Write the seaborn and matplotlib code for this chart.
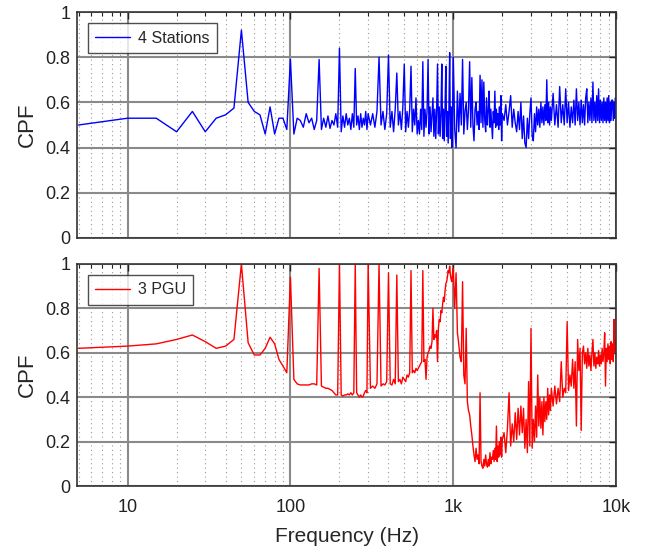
import numpy as np
import pandas as pd
import matplotlib
matplotlib.use("Agg")
import matplotlib.pyplot as plt
import seaborn as sns
from matplotlib.ticker import LogLocator, NullFormatter, FixedLocator

# ---- data (frequency in Hz, CPF) ----
# 5 Hz grid up to 300 Hz, then coarser steps for the dense part
f_a = np.arange(5, 101, 5)      # 20 bins
f_b = np.arange(105, 301, 5)    # 40 bins
f_c = np.arange(310, 601, 10)   # 30 bins
f_d = np.arange(610, 1001, 10)  # 40 bins
f_e = np.arange(1020, 2001, 20)  # 50 bins
f_g = np.arange(2050, 4001, 50)  # 40 bins
f_h = np.arange(4100, 10001, 100)  # 60 bins

stations_a = [0.50, 0.53, 0.53, 0.47, 0.56, 0.47, 0.53, 0.545, 0.575, 0.92,
              0.60, 0.56, 0.545, 0.46, 0.58, 0.46, 0.53, 0.53, 0.48, 0.79]
stations_b = [0.46, 0.53, 0.52, 0.49, 0.55, 0.51, 0.53, 0.48, 0.52, 0.79,
              0.48, 0.53, 0.49, 0.54, 0.485, 0.52, 0.50, 0.55, 0.49, 0.84,
              0.47, 0.54, 0.49, 0.55, 0.50, 0.53, 0.48, 0.55, 0.49, 0.75,
              0.50, 0.54, 0.48, 0.55, 0.49, 0.53, 0.50, 0.56, 0.48, 0.55]
stations_c = [0.50, 0.55, 0.49, 0.56, 0.80, 0.50, 0.56, 0.48, 0.55, 0.81,
              0.49, 0.56, 0.47, 0.57, 0.73, 0.50, 0.56, 0.48, 0.58, 0.77,
              0.47, 0.56, 0.49, 0.57, 0.76, 0.47, 0.57, 0.50, 0.62, 0.46]
stations_d = [0.52, 0.46, 0.57, 0.48, 0.78, 0.45, 0.57, 0.49, 0.56, 0.79,
              0.46, 0.58, 0.47, 0.55, 0.62, 0.45, 0.57, 0.44, 0.56, 0.77,
              0.46, 0.58, 0.45, 0.55, 0.77, 0.44, 0.57, 0.43, 0.58, 0.76,
              0.45, 0.56, 0.42, 0.57, 0.82, 0.44, 0.58, 0.40, 0.55, 0.80]
stations_e = [0.48, 0.40, 0.65, 0.47, 0.64, 0.50, 0.79, 0.46, 0.56, 0.60,
              0.48, 0.57, 0.78, 0.49, 0.71, 0.50, 0.43, 0.57, 0.60, 0.50,
              0.56, 0.48, 0.72, 0.51, 0.70, 0.49, 0.69, 0.52, 0.47, 0.62,
              0.50, 0.56, 0.65, 0.49, 0.57, 0.50, 0.44, 0.56, 0.51, 0.65,
              0.49, 0.57, 0.50, 0.55, 0.48, 0.58, 0.50, 0.63, 0.43, 0.55]
stations_g = [0.52, 0.59, 0.50, 0.56, 0.63, 0.49, 0.57, 0.51, 0.47, 0.56,
              0.48, 0.60, 0.44, 0.54, 0.42, 0.40, 0.53, 0.44, 0.55, 0.62,
              0.45, 0.43, 0.55, 0.47, 0.58, 0.50, 0.57, 0.49, 0.60, 0.51,
              0.58, 0.50, 0.59, 0.52, 0.70, 0.51, 0.60, 0.50, 0.58, 0.52]
stations_h = [0.64, 0.50, 0.59, 0.49, 0.67, 0.51, 0.59, 0.50, 0.66, 0.51,
              0.60, 0.49, 0.58, 0.51, 0.61, 0.50, 0.66, 0.52, 0.60, 0.50,
              0.61, 0.51, 0.59, 0.50, 0.62, 0.66, 0.51, 0.60, 0.52, 0.62,
              0.51, 0.69, 0.52, 0.60, 0.51, 0.63, 0.52, 0.66, 0.51, 0.61,
              0.52, 0.60, 0.51, 0.62, 0.52, 0.60, 0.51, 0.62, 0.52, 0.63,
              0.51, 0.60, 0.52, 0.61, 0.61, 0.52, 0.60, 0.53, 0.62, 0.55]

pgu_a = [0.62, 0.63, 0.64, 0.66, 0.68, 0.65, 0.62, 0.63, 0.66, 1.00,
         0.645, 0.59, 0.59, 0.62, 0.67, 0.64, 0.57, 0.54, 0.51, 0.94]
pgu_b = [0.48, 0.46, 0.455, 0.455, 0.455, 0.455, 0.46, 0.46, 0.455, 0.98,
         0.45, 0.445, 0.44, 0.44, 0.435, 0.43, 0.42, 0.41, 0.41, 1.00,
         0.41, 0.405, 0.41, 0.41, 0.415, 0.41, 0.42, 0.41, 0.42, 1.00,
         0.42, 0.41, 0.40, 0.41, 0.40, 0.405, 0.42, 0.43, 0.42, 1.00]
pgu_c = [0.44, 0.45, 0.44, 0.46, 1.00, 0.45, 0.46, 0.455, 0.47, 0.96,
         0.46, 0.455, 0.48, 0.46, 0.95, 0.47, 0.48, 0.46, 0.49, 0.48,
         0.47, 0.50, 0.49, 0.51, 0.97, 0.51, 0.52, 0.51, 0.53, 0.52]
pgu_d = [0.53, 0.54, 0.55, 0.56, 0.97, 0.56, 0.57, 0.48, 0.58, 0.60,
         0.61, 0.63, 0.62, 0.65, 0.80, 0.66, 0.68, 0.67, 0.70, 0.56,
         0.71, 0.75, 0.74, 0.79, 0.78, 0.82, 0.85, 0.83, 0.88, 0.91,
         0.92, 0.94, 0.97, 0.96, 0.99, 0.95, 0.93, 0.92, 0.96, 0.98]
pgu_e = [0.80, 0.96, 0.69, 0.64, 0.58, 0.56, 0.92, 0.50, 0.46, 0.71,
         0.38, 0.34, 0.32, 0.27, 0.23, 0.18, 0.14, 0.11, 0.17, 0.12,
         0.14, 0.10, 0.42, 0.11, 0.09, 0.08, 0.12, 0.09, 0.14, 0.10,
         0.085, 0.12, 0.09, 0.15, 0.10, 0.13, 0.12, 0.16, 0.11, 0.17,
         0.12, 0.27, 0.11, 0.18, 0.13, 0.20, 0.14, 0.22, 0.13, 0.21]
pgu_g = [0.24, 0.15, 0.26, 0.42, 0.18, 0.28, 0.20, 0.33, 0.21, 0.35,
         0.23, 0.36, 0.24, 0.35, 0.17, 0.30, 0.15, 0.47, 0.18, 0.71,
         0.17, 0.30, 0.20, 0.36, 0.22, 0.50, 0.27, 0.40, 0.26, 0.38,
         0.23, 0.40, 0.29, 0.38, 0.30, 0.44, 0.32, 0.41, 0.34, 0.44]
pgu_h = [0.36, 0.45, 0.37, 0.44, 0.38, 0.56, 0.40, 0.44, 0.42, 0.74,
         0.43, 0.50, 0.45, 0.57, 0.44, 0.56, 0.27, 0.66, 0.52, 0.62,
         0.25, 0.60, 0.63, 0.55, 0.60, 0.53, 0.62, 0.54, 0.59, 0.52,
         0.60, 0.66, 0.54, 0.60, 0.53, 0.58, 0.55, 0.61, 0.54, 0.59,
         0.55, 0.62, 0.56, 0.60, 0.69, 0.45, 0.62, 0.56, 0.64, 0.57,
         0.63, 0.55, 0.65, 0.57, 0.64, 0.56, 0.75, 0.60, 0.66, 0.62]

freq = np.concatenate([f_a, f_b, f_c, f_d, f_e, f_g, f_h])
stations = np.concatenate([stations_a, stations_b, stations_c, stations_d,
                           stations_e, stations_g, stations_h])
pgu = np.concatenate([pgu_a, pgu_b, pgu_c, pgu_d, pgu_e, pgu_g, pgu_h])

df_top = pd.DataFrame({"freq": freq, "cpf": stations})
df_bot = pd.DataFrame({"freq": freq, "cpf": pgu})

# ---- style ----
sns.set_style("white")
plt.rcParams["font.family"] = ["Liberation Sans", "DejaVu Sans"]

fig = plt.figure(figsize=(6.59, 5.47), dpi=100)
ax1 = fig.add_axes([0.117, 0.565, 0.818, 0.413])
ax2 = fig.add_axes([0.117, 0.1115, 0.818, 0.406])

series = [(ax1, df_top, "#0000ff", "4 Stations"),
          (ax2, df_bot, "#ff0000", "3 PGU")]

for ax, d, col, lab in series:
    sns.lineplot(data=d, x="freq", y="cpf", ax=ax, color=col, linewidth=1.0,
                 label=lab, estimator=None, sort=False)
    ax.set_xscale("log")
    ax.set_xlim(4.9, 10000)
    ax.set_ylim(0, 1)
    ax.set_yticks([0, 0.2, 0.4, 0.6, 0.8, 1.0])
    ax.set_yticklabels(["0", "0.2", "0.4", "0.6", "0.8", "1"])
    ax.xaxis.set_major_locator(FixedLocator([10, 100, 1000, 10000]))
    ax.xaxis.set_minor_locator(LogLocator(base=10, subs=np.arange(2, 10)))
    ax.xaxis.set_minor_formatter(NullFormatter())
    ax.grid(True, which="major", color="#8a8a8a", linewidth=1.5, linestyle="-")
    ax.grid(True, which="minor", axis="x", color="#9a9a9a", linewidth=0.8,
            linestyle=(0, (1, 3)))
    ax.set_axisbelow(True)
    ax.tick_params(which="both", direction="in", top=True, right=True,
                   labelsize=13, colors="#222222", pad=5)
    ax.tick_params(which="major", length=5, width=1)
    ax.tick_params(which="minor", length=3, width=0.8)
    for s in ax.spines.values():
        s.set_color("#333333")
        s.set_linewidth(1.2)
    ax.set_ylabel("CPF", fontsize=16, labelpad=5)
    leg = ax.legend(loc="upper left", fontsize=11.5, frameon=True, fancybox=False,
                    handlelength=2.2, handletextpad=0.5, borderpad=0.45,
                    borderaxespad=0.5, bbox_to_anchor=(0.005, 0.985))
    leg.get_frame().set_edgecolor("#222222")
    leg.get_frame().set_linewidth(1.0)

ax1.set_xlabel("")
ax1.set_xticklabels([])
ax2.set_xticklabels(["10", "100", "1k", "10k"])
ax2.tick_params(axis="x", pad=9)
ax2.set_xlabel("Frequency (Hz)", fontsize=15, labelpad=8)

fig.savefig("out.png", dpi=100)
